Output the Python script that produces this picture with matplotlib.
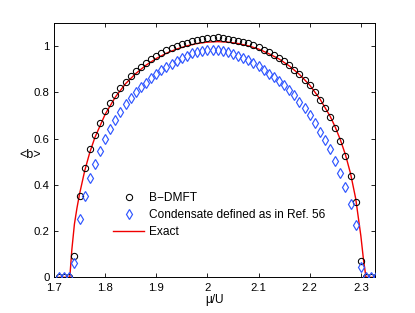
import matplotlib
matplotlib.use("Agg")
import matplotlib.pyplot as plt
import numpy as np

plt.rcParams['font.family'] = ['Liberation Sans', 'DejaVu Sans']

mu = np.round(np.arange(1.71, 2.3301, 0.01), 2)

bdmft = [0, 0, 0, 0.092, 0.352, 0.473, 0.555, 0.617, 0.668, 0.718, 0.754, 0.788,
         0.818, 0.845, 0.870, 0.892, 0.910, 0.928, 0.944, 0.958, 0.970, 0.982,
         0.992, 1.001, 1.009, 1.016, 1.022, 1.027, 1.031, 1.035, 1.037, 1.038,
         1.036, 1.033, 1.029, 1.024, 1.019, 1.012, 1.005, 0.996, 0.986,
         0.975, 0.963, 0.950, 0.935, 0.918, 0.899, 0.879, 0.856, 0.831, 0.802,
         0.769, 0.734, 0.694, 0.647, 0.592, 0.525, 0.438, 0.325, 0.072, 0, 0, 0]

condensate = [0, 0, 0, 0.061, 0.251, 0.352, 0.429, 0.491, 0.546, 0.598, 0.642,
              0.682, 0.714, 0.748, 0.776, 0.800, 0.822, 0.843, 0.862, 0.880,
              0.896, 0.911, 0.925, 0.938, 0.949, 0.960, 0.969, 0.976, 0.981,
              0.984, 0.985, 0.984, 0.980, 0.975, 0.968, 0.960, 0.950, 0.939,
              0.927, 0.913, 0.898, 0.882, 0.866, 0.850, 0.834, 0.809, 0.788,
              0.759, 0.731, 0.701, 0.668, 0.631, 0.595, 0.555, 0.504, 0.451,
              0.393, 0.316, 0.227, 0.045, 0, 0, 0]

exact_mu = [1.71, 1.731, 1.735, 1.74, 1.745, 1.75, 1.76, 1.77, 1.78, 1.80, 1.82,
            1.84, 1.86, 1.88, 1.90, 1.92, 1.94, 1.96, 1.98, 2.00, 2.02, 2.04,
            2.06, 2.08, 2.10, 2.12, 2.14, 2.16, 2.18, 2.20, 2.22, 2.24, 2.25,
            2.26, 2.27, 2.28, 2.29, 2.30, 2.305, 2.31, 2.33]
exact_b = [0, 0, 0.12, 0.23, 0.30, 0.36, 0.46, 0.54, 0.605, 0.705, 0.78, 0.838,
           0.882, 0.918, 0.947, 0.970, 0.988, 1.002, 1.012, 1.018, 1.020, 1.018,
           1.012, 1.002, 0.988, 0.968, 0.945, 0.915, 0.878, 0.832, 0.772, 0.697,
           0.650, 0.595, 0.530, 0.448, 0.340, 0.18, 0.08, 0, 0]

xticks = [1.7, 1.8, 1.9, 2.0, 2.1, 2.2, 2.3]
xticklabels = ['1.7', '1.8', '1.9', '2', '2.1', '2.2', '2.3']
yticks = [0, 0.2, 0.4, 0.6, 0.8, 1.0]
yticklabels = ['0', '0.2', '0.4', '0.6', '0.8', '1']

fig = plt.figure(figsize=(4.15, 3.13), dpi=100)
ax = fig.add_axes([0.130, 0.114, 0.774, 0.812])

ax.plot(mu, bdmft, 'o', mfc='none', mec='black', ms=4.5, mew=0.75,
        label='B\u2212DMFT', zorder=3)
ax.plot(mu, condensate, 'd', mfc='none', mec='#2f55ff', ms=5.2,
        mew=0.85, label='Condensate defined as in Ref. 56', zorder=3)
ax.plot(exact_mu, exact_b, '-', color='#f00000', lw=1.0, label='Exact', zorder=2)

ax.set_xlim(1.7, 2.328)
ax.set_ylim(0, 1.1)
ax.set_xticks(xticks)
ax.set_xticklabels(xticklabels)
ax.set_yticks(yticks)
ax.set_yticklabels(yticklabels)
ax.tick_params(direction='in', top=True, right=True, labelsize=8.2, length=3,
               width=0.6)
ax.tick_params(axis='x', pad=4)
ax.tick_params(axis='y', pad=3)
for s in ax.spines.values():
    s.set_linewidth(0.7)

ax.set_xlabel('\u03bc/U', fontsize=8.6, labelpad=1)
ax.set_ylabel('<b>', fontsize=9, rotation=0, va='center', ha='center')
ax.yaxis.set_label_coords(-0.075, 0.48)

leg = ax.legend(loc='upper left', bbox_to_anchor=(0.17, 0.355), frameon=False,
                fontsize=8.6, handlelength=2.6, handletextpad=0.4,
                labelspacing=0.42, borderaxespad=0)

fig.savefig('out.png', dpi=100)
